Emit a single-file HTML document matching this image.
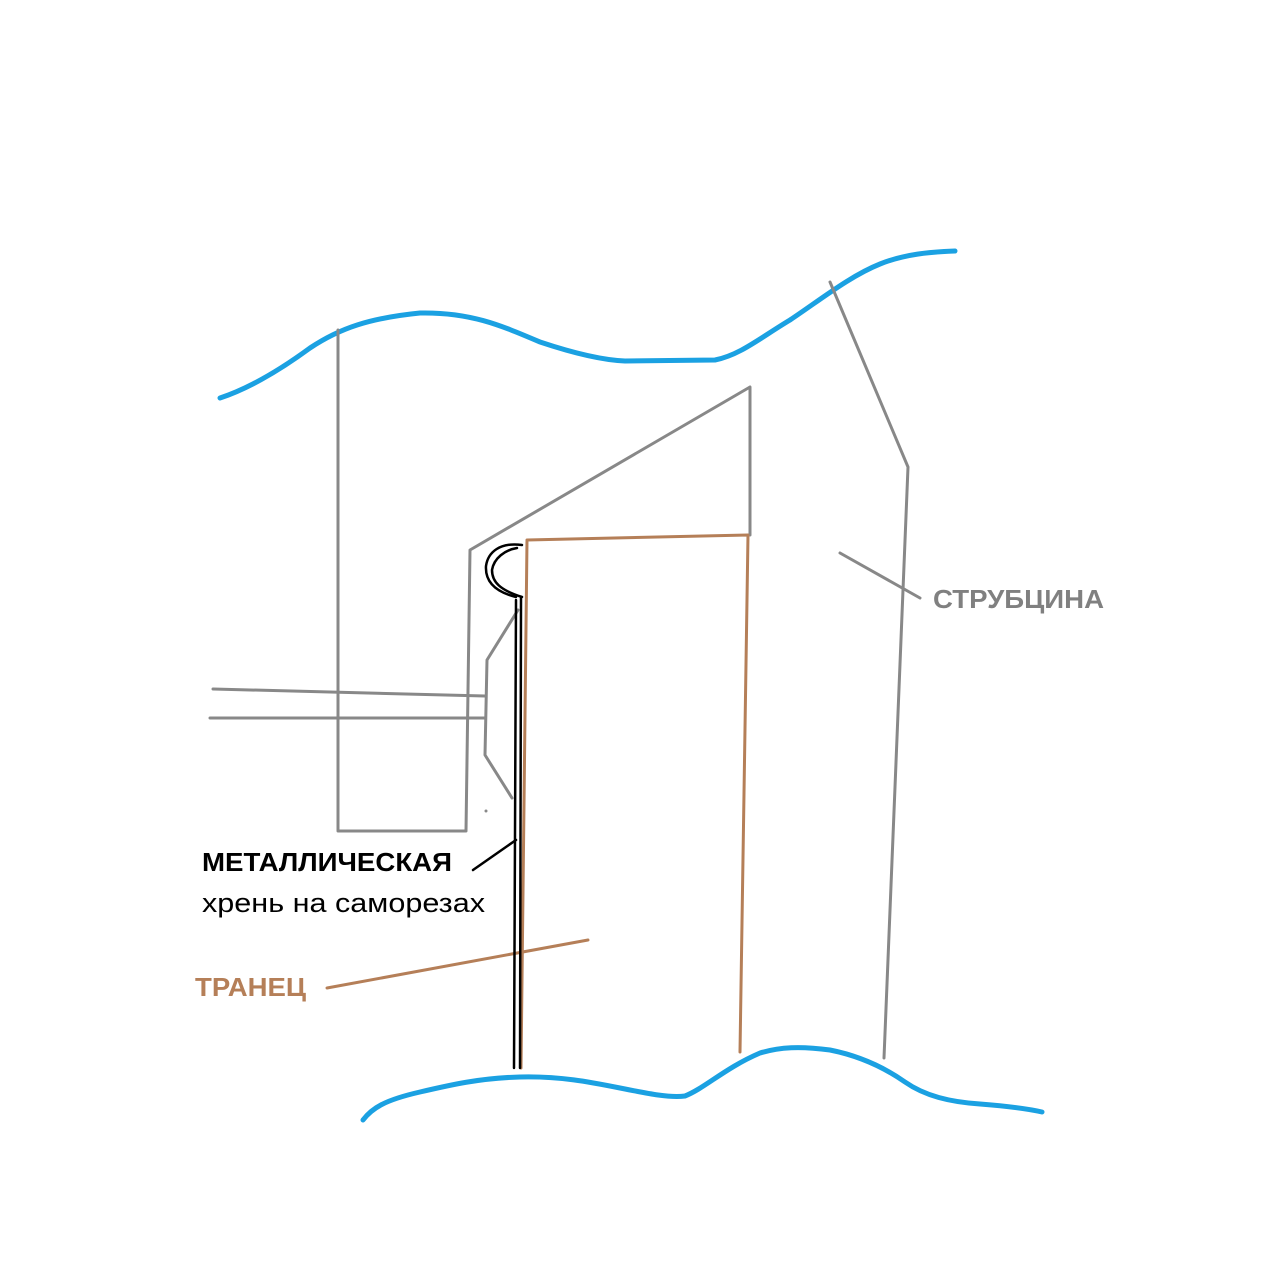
<!DOCTYPE html>
<html><head><meta charset="utf-8"><style>
html,body{margin:0;padding:0;background:#fff;}
svg{display:block;}
text{font-family:"Liberation Sans",sans-serif;}
</style></head><body>
<svg width="1261" height="1280" viewBox="0 0 1261 1280" xmlns="http://www.w3.org/2000/svg">
<g fill="none" stroke-linecap="round" stroke-linejoin="round">
<path d="M220,398 C250,388 280,370 310,348 C340,328 370,318 420,313 C470,312 500,325 540,342 C570,352 600,360 625,361 L715,360 C740,355 760,338 790,320 C820,300 850,276 880,264 C905,254 930,252 955,251" stroke="#1ba1e2" stroke-width="5"/>
<path d="M363,1120 C372,1108 385,1100 420,1092 C450,1085 480,1078 520,1077 C560,1076 590,1082 620,1088 C650,1094 670,1098 685,1096 C705,1088 725,1068 760,1053 C780,1047 800,1046 830,1050 C860,1056 885,1068 905,1082 C925,1096 950,1102 980,1104 C1005,1106 1025,1108 1042,1112" stroke="#1ba1e2" stroke-width="5"/>
<g stroke="#888" stroke-width="3">
<path d="M338,330 L338,831 L466,831 L470,550 L750,387 L750,535"/>
<path d="M830,282 L908,467 L884,1058"/>
<path d="M213,689 L485,696"/>
<path d="M210,718 L485,718"/>
<path d="M518,610 L487,660 L485,755 L512,798"/>
<path d="M840,553 L920,598"/>
</g>
<g stroke="#b57f58" stroke-width="3">
<path d="M521,1068 L527,540 L748,535 L740,1052"/>
<path d="M327,988 L588,940"/>
</g>
<g stroke="#000" stroke-width="2.5">
<path d="M514,1068 L516,600"/>
<path d="M520,1068 L521,598"/>
<path d="M522,545 C500,542 488,552 486,566 C485,582 496,592 516,597"/>
<path d="M517,548 C505,550 494,558 492,570 C492,582 500,590 522,597"/>
<path d="M473,870 L516,840"/>
</g>
<circle cx="486" cy="811" r="1.5" fill="#888"/>
</g>
<text x="202" y="871" font-size="26" font-weight="bold" fill="#000" textLength="250" lengthAdjust="spacingAndGlyphs">МЕТАЛЛИЧЕСКАЯ</text>
<text x="202" y="912" font-size="27" fill="#000" textLength="283" lengthAdjust="spacingAndGlyphs">хрень на саморезах</text>
<text x="195" y="996" font-size="26" font-weight="bold" fill="#b57f58" textLength="111" lengthAdjust="spacingAndGlyphs">ТРАНЕЦ</text>
<text x="933" y="608" font-size="26" font-weight="bold" fill="#808080" textLength="171" lengthAdjust="spacingAndGlyphs">СТРУБЦИНА</text>
</svg>
</body></html>
